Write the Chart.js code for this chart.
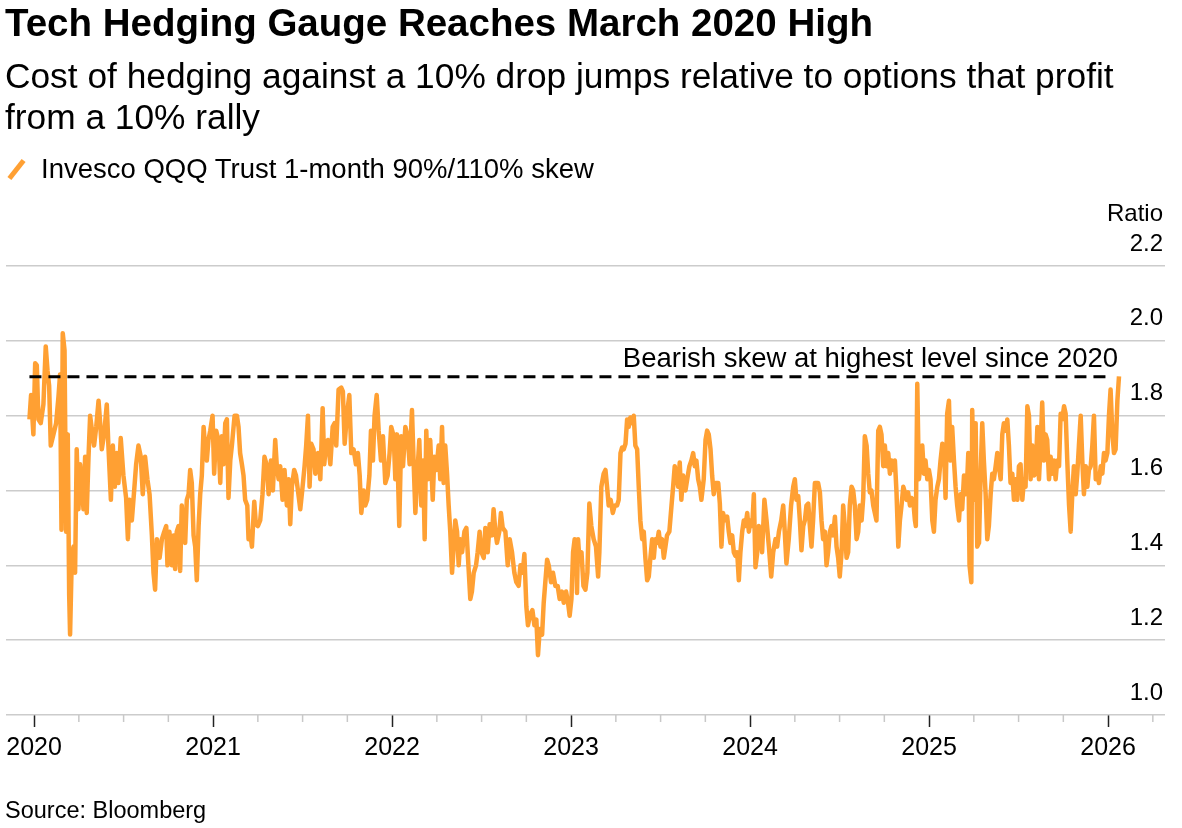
<!DOCTYPE html>
<html>
<head>
<meta charset="utf-8">
<script src="https://cdn.jsdelivr.net/npm/chart.js@4.4.1/dist/chart.umd.min.js"></script>
<style>
  body { margin: 0; background: #fff; font-family: "Liberation Sans", Arial, sans-serif; color: #000; }
  #wrap { position: relative; width: 1182px; height: 828px; overflow: hidden; }
  #chart { position: absolute; left: 0; top: 0; }
  .txt { position: absolute; left: 5px; white-space: nowrap; }
  #title { top: 4px; font-size: 38.5px; line-height: 38px; font-weight: bold; }
  #subtitle { top: 55px; font-size: 35.3px; line-height: 41px; }
  #legend { top: 154px; font-size: 27.5px; line-height: 30px; left: 8px; }
  #legend .swatch { display: inline-block; width: 5px; height: 23px; background: #ffa033; transform: rotate(38deg); margin: 0 22px 0 6px; vertical-align: -3px; }
  #source { top: 797px; font-size: 23.5px; line-height: 26px; }
</style>
</head>
<body>
<div id="wrap">
  <canvas id="chart" width="1182" height="828"></canvas>
  <div class="txt" id="title">Tech Hedging Gauge Reaches March 2020 High</div>
  <div class="txt" id="subtitle">Cost of hedging against a 10% drop jumps relative to options that profit<br>from a 10% rally</div>
  <div class="txt" id="legend"><span class="swatch"></span>Invesco QQQ Trust 1-month 90%/110% skew</div>
  <div class="txt" id="source">Source: Bloomberg</div>
</div>
<script>
const FONT = '"Liberation Sans", Arial, sans-serif'
const ORANGE = '#ffa033'

// dates as decimal years
const dates = [
  2019.974, 2019.983, 2019.996, 2020.006, 2020.015, 2020.024, 2020.037, 2020.052, 2020.065, 2020.075,
  2020.084, 2020.093, 2020.108, 2020.123, 2020.136, 2020.145, 2020.153, 2020.160, 2020.170, 2020.179,
  2020.188, 2020.196, 2020.201, 2020.211, 2020.220, 2020.229, 2020.238, 2020.248, 2020.257, 2020.266,
  2020.276, 2020.285, 2020.294, 2020.304, 2020.313, 2020.326, 2020.335, 2020.347, 2020.360, 2020.369,
  2020.378, 2020.391, 2020.406, 2020.415, 2020.429, 2020.440, 2020.451, 2020.462, 2020.471, 2020.484,
  2020.499, 2020.514, 2020.524, 2020.533, 2020.546, 2020.559, 2020.570, 2020.583, 2020.596, 2020.607,
  2020.620, 2020.633, 2020.645, 2020.658, 2020.667, 2020.676, 2020.686, 2020.701, 2020.714, 2020.727,
  2020.738, 2020.745, 2020.756, 2020.770, 2020.779, 2020.788, 2020.797, 2020.807, 2020.816, 2020.825,
  2020.835, 2020.844, 2020.853, 2020.863, 2020.872, 2020.881, 2020.891, 2020.900, 2020.909, 2020.919,
  2020.928, 2020.937, 2020.947, 2020.956, 2020.965, 2020.974,
  2020.984, 2020.997, 2021.006, 2021.017, 2021.030, 2021.040, 2021.049, 2021.058, 2021.068, 2021.077,
  2021.086, 2021.096, 2021.105, 2021.120, 2021.133, 2021.142, 2021.151, 2021.161, 2021.170, 2021.179,
  2021.191, 2021.198, 2021.207, 2021.217, 2021.230, 2021.239, 2021.250, 2021.263, 2021.276, 2021.287,
  2021.301, 2021.310, 2021.323, 2021.334, 2021.347, 2021.356, 2021.366, 2021.375, 2021.388, 2021.399,
  2021.412, 2021.422, 2021.431, 2021.440, 2021.453, 2021.463, 2021.474, 2021.487, 2021.500, 2021.511,
  2021.520, 2021.530, 2021.539, 2021.548, 2021.561, 2021.571, 2021.586, 2021.599, 2021.612, 2021.621,
  2021.630, 2021.641, 2021.655, 2021.668, 2021.679, 2021.688, 2021.701, 2021.716, 2021.725, 2021.735,
  2021.748, 2021.761, 2021.772, 2021.785, 2021.798, 2021.809, 2021.819, 2021.828, 2021.841, 2021.850,
  2021.861, 2021.873, 2021.882, 2021.893, 2021.902, 2021.914, 2021.925, 2021.938, 2021.949, 2021.962,
  2021.975, 2021.986, 2021.995, 2022.009,
  2022.018, 2022.027, 2022.040, 2022.051, 2022.061, 2022.074, 2022.087, 2022.098, 2022.111, 2022.120,
  2022.130, 2022.139, 2022.152, 2022.163, 2022.173, 2022.182, 2022.191, 2022.200, 2022.213, 2022.227,
  2022.236, 2022.247, 2022.260, 2022.269, 2022.279, 2022.288, 2022.297, 2022.307, 2022.316, 2022.325,
  2022.335, 2022.344, 2022.353, 2022.363, 2022.372, 2022.381, 2022.391, 2022.404, 2022.415, 2022.424,
  2022.437, 2022.446, 2022.456, 2022.469, 2022.478, 2022.489, 2022.499, 2022.512, 2022.521, 2022.534,
  2022.545, 2022.558, 2022.567, 2022.577, 2022.586, 2022.599, 2022.608, 2022.618, 2022.633, 2022.646,
  2022.657, 2022.670, 2022.683, 2022.694, 2022.707, 2022.717, 2022.730, 2022.739, 2022.750, 2022.759,
  2022.772, 2022.784, 2022.795, 2022.806, 2022.815, 2022.825, 2022.838, 2022.847, 2022.856, 2022.866,
  2022.875, 2022.888, 2022.899, 2022.912, 2022.925, 2022.936, 2022.949, 2022.959, 2022.972, 2022.983,
  2022.992, 2023.002, 2023.011, 2023.020, 2023.030,
  2023.033, 2023.039, 2023.046, 2023.058, 2023.069, 2023.080, 2023.091, 2023.102, 2023.113, 2023.126,
  2023.139, 2023.151, 2023.158, 2023.169, 2023.182, 2023.192, 2023.201, 2023.210, 2023.221, 2023.233,
  2023.244, 2023.257, 2023.266, 2023.276, 2023.285, 2023.294, 2023.304, 2023.313, 2023.322, 2023.331,
  2023.341, 2023.350, 2023.359, 2023.369, 2023.378, 2023.387, 2023.397, 2023.406, 2023.415, 2023.425,
  2023.434, 2023.443, 2023.453, 2023.462, 2023.471, 2023.480, 2023.490, 2023.499, 2023.508, 2023.518,
  2023.527, 2023.536, 2023.549, 2023.561, 2023.570, 2023.579, 2023.589, 2023.598, 2023.607, 2023.616,
  2023.626, 2023.639, 2023.652, 2023.661, 2023.672, 2023.682, 2023.691, 2023.700, 2023.710, 2023.719,
  2023.728, 2023.741, 2023.751, 2023.760, 2023.769, 2023.779, 2023.788, 2023.797, 2023.807, 2023.822,
  2023.831, 2023.840, 2023.849, 2023.859, 2023.872, 2023.881, 2023.890, 2023.900, 2023.909, 2023.918,
  2023.928, 2023.937, 2023.946, 2023.956, 2023.965, 2023.974, 2023.984, 2023.993, 2024.002, 2024.012,
  2024.021, 2024.030, 2024.039, 2024.049, 2024.058, 2024.067,
  2024.080, 2024.092, 2024.105, 2024.118, 2024.129, 2024.142, 2024.151, 2024.161, 2024.174, 2024.185,
  2024.192, 2024.203, 2024.216, 2024.229, 2024.241, 2024.250, 2024.259, 2024.269, 2024.278, 2024.287,
  2024.297, 2024.306, 2024.315, 2024.325, 2024.334, 2024.343, 2024.352, 2024.362, 2024.371, 2024.380,
  2024.390, 2024.399, 2024.408, 2024.418, 2024.427, 2024.436, 2024.446, 2024.455, 2024.464, 2024.474,
  2024.483, 2024.492, 2024.501, 2024.511, 2024.520, 2024.529, 2024.539, 2024.548, 2024.557, 2024.567,
  2024.576, 2024.585, 2024.595, 2024.604, 2024.613, 2024.623, 2024.632, 2024.641, 2024.651, 2024.660,
  2024.669, 2024.678, 2024.688, 2024.697, 2024.706, 2024.716, 2024.725, 2024.734, 2024.744, 2024.753,
  2024.762, 2024.772, 2024.781, 2024.790, 2024.800, 2024.809, 2024.818, 2024.828, 2024.837, 2024.846,
  2024.856, 2024.865, 2024.874, 2024.883, 2024.893, 2024.902, 2024.911, 2024.921, 2024.926, 2024.934,
  2024.943, 2024.952, 2024.962, 2024.971, 2024.980, 2024.990, 2024.999, 2025.008, 2025.018, 2025.027,
  2025.036, 2025.046, 2025.055, 2025.064, 2025.074, 2025.083, 2025.092, 2025.101, 2025.111,
  2025.120, 2025.129, 2025.139, 2025.148, 2025.157, 2025.167, 2025.176, 2025.185, 2025.195, 2025.204,
  2025.213, 2025.219, 2025.226, 2025.236, 2025.241, 2025.251, 2025.260, 2025.269, 2025.279, 2025.288,
  2025.297, 2025.306, 2025.316, 2025.325, 2025.334, 2025.344, 2025.353, 2025.362, 2025.372, 2025.381,
  2025.390, 2025.400, 2025.409, 2025.418, 2025.428, 2025.437, 2025.446, 2025.455, 2025.465, 2025.474,
  2025.483, 2025.493, 2025.502, 2025.511, 2025.521, 2025.530, 2025.539, 2025.549, 2025.558, 2025.567,
  2025.577, 2025.586, 2025.595, 2025.605, 2025.614, 2025.623, 2025.632, 2025.642, 2025.651, 2025.660,
  2025.670, 2025.679, 2025.688, 2025.698, 2025.707, 2025.716, 2025.726, 2025.735, 2025.744, 2025.754,
  2025.763, 2025.772, 2025.782, 2025.791, 2025.800, 2025.809, 2025.819, 2025.828, 2025.837, 2025.847,
  2025.856, 2025.865, 2025.875, 2025.884, 2025.893, 2025.903, 2025.912, 2025.921, 2025.931, 2025.940,
  2025.949, 2025.959, 2025.968, 2025.977, 2025.986, 2025.996, 2026.005, 2026.014, 2026.024, 2026.033,
  2026.042, 2026.052, 2026.061
]

// 1-month 90%/110% skew ratio
const skew = [
  1.79, 1.855, 1.75, 1.94, 1.935, 1.79, 1.78, 1.83, 1.985, 1.92,
  1.88, 1.72, 1.75, 1.78, 1.85, 1.91, 1.495, 2.02, 1.975, 1.49,
  1.75, 1.32, 1.215, 1.43, 1.45, 1.38, 1.71, 1.55, 1.67, 1.61,
  1.55, 1.69, 1.54, 1.69, 1.80, 1.75, 1.72, 1.77, 1.84, 1.78,
  1.71, 1.75, 1.83, 1.72, 1.575, 1.72, 1.61, 1.70, 1.62, 1.74,
  1.64, 1.58, 1.47, 1.575, 1.52, 1.60, 1.67, 1.72, 1.69, 1.59,
  1.69, 1.63, 1.59, 1.48, 1.38, 1.335, 1.47, 1.42, 1.47, 1.49,
  1.505, 1.40, 1.49, 1.40, 1.48, 1.39, 1.49, 1.505, 1.385, 1.56,
  1.49, 1.46, 1.575, 1.59, 1.655, 1.62, 1.48, 1.45, 1.36, 1.505,
  1.59, 1.64, 1.77, 1.71, 1.68, 1.735,
  1.76, 1.80, 1.645, 1.76, 1.735, 1.62, 1.745, 1.67, 1.78, 1.79,
  1.58, 1.68, 1.72, 1.80, 1.80, 1.77, 1.70, 1.67, 1.64, 1.575,
  1.56, 1.47, 1.49, 1.45, 1.57, 1.51, 1.505, 1.52, 1.59, 1.69,
  1.665, 1.59, 1.68, 1.60, 1.735, 1.665, 1.63, 1.665, 1.575, 1.655,
  1.56, 1.63, 1.51, 1.61, 1.655, 1.64, 1.60, 1.55, 1.61, 1.665,
  1.72, 1.80, 1.61, 1.725, 1.71, 1.645, 1.70, 1.63, 1.82, 1.67,
  1.72, 1.735, 1.67, 1.77, 1.78, 1.72, 1.87, 1.875, 1.865, 1.725,
  1.805, 1.855, 1.70, 1.71, 1.67, 1.70, 1.64, 1.54, 1.60, 1.56,
  1.575, 1.64, 1.76, 1.68, 1.80, 1.855, 1.76, 1.68, 1.745, 1.62,
  1.64, 1.70, 1.77, 1.745,
  1.63, 1.75, 1.505, 1.745, 1.665, 1.77, 1.745, 1.67, 1.815, 1.68,
  1.54, 1.63, 1.735, 1.56, 1.68, 1.47, 1.76, 1.63, 1.735, 1.575,
  1.69, 1.655, 1.72, 1.63, 1.77, 1.62, 1.72, 1.645, 1.56, 1.49,
  1.38, 1.45, 1.52, 1.49, 1.40, 1.47, 1.435, 1.49, 1.50, 1.42,
  1.31, 1.33, 1.38, 1.40, 1.435, 1.49, 1.435, 1.42, 1.50, 1.435,
  1.51, 1.48, 1.55, 1.49, 1.46, 1.49, 1.54, 1.50, 1.49, 1.40,
  1.47, 1.435, 1.38, 1.355, 1.345, 1.40, 1.38, 1.43, 1.29, 1.24,
  1.27, 1.28, 1.24, 1.255, 1.16, 1.23, 1.215, 1.30, 1.355, 1.415,
  1.40, 1.355, 1.38, 1.345, 1.345, 1.31, 1.33, 1.30, 1.33, 1.30,
  1.265, 1.31, 1.435, 1.47, 1.44,
  1.326, 1.47, 1.42, 1.435, 1.345, 1.335, 1.38, 1.565, 1.505, 1.47,
  1.45, 1.37, 1.435, 1.61, 1.645, 1.655, 1.61, 1.56, 1.575, 1.54,
  1.56, 1.56, 1.575, 1.70, 1.715, 1.71, 1.725, 1.79, 1.77, 1.795,
  1.78, 1.80, 1.72, 1.71, 1.61, 1.52, 1.47, 1.49, 1.42, 1.36,
  1.37, 1.42, 1.47, 1.42, 1.47, 1.46, 1.49, 1.45, 1.47, 1.42,
  1.45, 1.48, 1.49, 1.56, 1.61, 1.665, 1.64, 1.61, 1.675, 1.575,
  1.64, 1.60, 1.64, 1.665, 1.68, 1.70, 1.665, 1.68, 1.63, 1.61,
  1.575, 1.63, 1.735, 1.76, 1.75, 1.71, 1.64, 1.59, 1.62, 1.62,
  1.565, 1.45, 1.54, 1.52, 1.53, 1.49, 1.46, 1.48, 1.435, 1.425,
  1.435, 1.36, 1.435, 1.49, 1.52, 1.505, 1.54, 1.49, 1.52, 1.505,
  1.59, 1.395, 1.43, 1.505, 1.49, 1.435,
  1.575, 1.52, 1.45, 1.37, 1.435, 1.47, 1.45, 1.49, 1.52, 1.56,
  1.505, 1.405, 1.47, 1.56, 1.61, 1.63, 1.575, 1.585, 1.52, 1.44,
  1.505, 1.52, 1.56, 1.565, 1.505, 1.45, 1.52, 1.62, 1.62, 1.62,
  1.595, 1.52, 1.47, 1.49, 1.40, 1.435, 1.49, 1.505, 1.48, 1.53,
  1.45, 1.42, 1.37, 1.435, 1.56, 1.505, 1.42, 1.435, 1.56, 1.61,
  1.60, 1.56, 1.47, 1.49, 1.56, 1.52, 1.58, 1.745, 1.72, 1.645,
  1.595, 1.60, 1.56, 1.54, 1.52, 1.76, 1.77, 1.75, 1.665, 1.72,
  1.665, 1.70, 1.645, 1.68, 1.655, 1.68, 1.595, 1.45, 1.52, 1.56,
  1.61, 1.595, 1.575, 1.595, 1.56, 1.58, 1.575, 1.52, 1.505, 1.885,
  1.63, 1.665, 1.72, 1.645, 1.68, 1.63, 1.655, 1.63, 1.52, 1.49,
  1.575, 1.61, 1.63, 1.68, 1.725, 1.72, 1.58, 1.805, 1.84,
  1.68, 1.77, 1.68, 1.61, 1.56, 1.52, 1.59, 1.55, 1.64, 1.59,
  1.63, 1.70, 1.40, 1.355, 1.815, 1.575, 1.78, 1.45, 1.46, 1.645,
  1.78, 1.68, 1.59, 1.47, 1.505, 1.59, 1.645, 1.63, 1.665, 1.70,
  1.665, 1.63, 1.75, 1.78, 1.76, 1.79, 1.72, 1.62, 1.645, 1.575,
  1.63, 1.575, 1.665, 1.67, 1.575, 1.63, 1.61, 1.825, 1.80, 1.63,
  1.72, 1.64, 1.645, 1.77, 1.63, 1.72, 1.835, 1.68, 1.75, 1.735,
  1.63, 1.69, 1.645, 1.68, 1.63, 1.68, 1.665, 1.805, 1.79, 1.825,
  1.805, 1.68, 1.56, 1.49, 1.59, 1.665, 1.59, 1.645, 1.72, 1.80,
  1.68, 1.59, 1.665, 1.61, 1.655, 1.665, 1.72, 1.80, 1.63, 1.645,
  1.62, 1.665, 1.645, 1.70, 1.68, 1.70, 1.80, 1.87, 1.75, 1.70,
  1.71, 1.84, 1.905
]

// dashed reference line: highest level since 2020
const refLevel = 1.904
const refStart = 2019.974
const refEnd = 2026.017
const refNote = 'Bearish skew at highest level since 2020'
const noteEnd = 2026.056

const xMin = 2019.843
const xMax = 2026.318
const yMin = 1.0
const yMax = 2.2

const seriesPoints = dates.map((d, i) => ({ x: d, y: skew[i] }))

const extras = {
  id: 'extras',
  afterDraw(chart) {
    const ctx = chart.ctx
    const xs = chart.scales.x
    const ys = chart.scales.y
    const area = chart.chartArea
    ctx.save()
    // quarter ticks under the axis
    ctx.strokeStyle = '#c8c8c8'
    ctx.lineWidth = 1.5
    for (let yr = Math.floor(xMin); yr <= Math.ceil(xMax); yr++) {
      for (const q of [0.25, 0.5, 0.75]) {
        const v = yr + q
        if (v < xMin || v > xMax) continue
        const px = xs.getPixelForValue(v)
        ctx.beginPath()
        ctx.moveTo(px, area.bottom)
        ctx.lineTo(px, area.bottom + 7)
        ctx.stroke()
      }
    }
    ctx.fillStyle = '#000'
    ctx.font = '24px ' + FONT
    ctx.textAlign = 'right'
    ctx.textBaseline = 'middle'
    ctx.fillText('Ratio', area.right - 2, ys.getPixelForValue(yMax) - 52)
    ctx.font = '27.5px ' + FONT
    ctx.textBaseline = 'alphabetic'
    ctx.fillText(refNote, xs.getPixelForValue(noteEnd), ys.getPixelForValue(refLevel) - 10)
    ctx.restore()
  }
}

new Chart(document.getElementById('chart').getContext('2d'), {
  type: 'line',
  data: {
    datasets: [
      {
        label: 'Highest since 2020',
        data: [{ x: refStart, y: refLevel }, { x: refEnd, y: refLevel }],
        borderColor: '#000',
        borderWidth: 3,
        borderDash: [12, 7],
        pointRadius: 0,
        order: 0
      },
      {
        label: 'Invesco QQQ Trust 1-month 90%/110% skew',
        data: seriesPoints,
        borderColor: ORANGE,
        borderWidth: 4.5,
        borderJoinStyle: 'round',
        pointRadius: 0,
        tension: 0,
        order: 1
      }
    ]
  },
  options: {
    responsive: false,
    animation: false,
    layout: { padding: { top: 266, left: 6, right: 17, bottom: 53 } },
    plugins: { legend: { display: false }, tooltip: { enabled: false } },
    scales: {
      x: {
        type: 'linear',
        min: xMin,
        max: xMax,
        border: { display: false },
        grid: { display: true, drawOnChartArea: false, drawTicks: true, tickLength: 12, tickColor: '#222', tickWidth: 1.5 },
        ticks: {
          stepSize: 1,
          includeBounds: false,
          autoSkip: false,
          maxRotation: 0,
          padding: 6,
          color: '#000',
          font: { size: 25, family: FONT },
          callback: v => String(Math.round(v))
        },
        afterFit(s) { s.height = 60 }
      },
      y: {
        position: 'right',
        min: yMin,
        max: yMax,
        border: { display: false },
        grid: { color: '#cccccc', lineWidth: 1.5, drawTicks: false },
        ticks: {
          stepSize: 0.2,
          mirror: true,
          padding: -2,
          labelOffset: -22,
          color: '#000',
          font: { size: 24, family: FONT },
          callback: v => v.toFixed(1)
        },
        afterFit(s) { s.width = 0 }
      }
    }
  },
  plugins: [extras]
})
</script>
</body>
</html>
